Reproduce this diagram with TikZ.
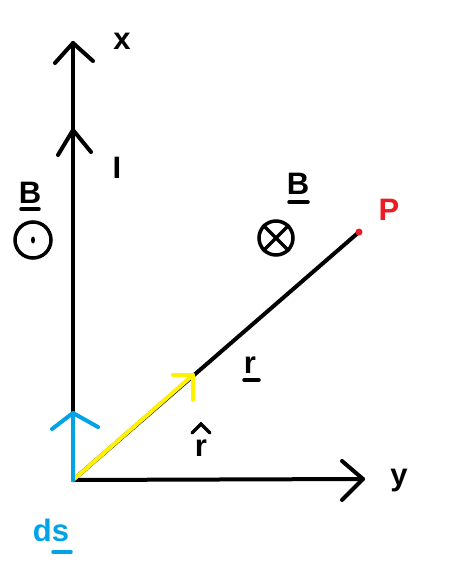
\documentclass[tikz,border=0pt]{standalone}
\usepackage{fontspec}
\setmainfont{Liberation Sans}
\definecolor{pblue}{RGB}{0,162,232}
\definecolor{pyellow}{RGB}{255,242,0}
\definecolor{pred}{RGB}{237,28,36}
\begin{document}
\begin{tikzpicture}[x=1pt,y=-1pt,
  ln/.style={line width=4pt,line cap=round,line join=round},
  lbl/.style={inner sep=0pt,font=\fontsize{31}{36}\selectfont\bfseries},
  ul/.style={line width=3.5pt,line cap=round}]
\useasboundingbox[fill=white] (0,0) rectangle (454,577);
% key points
\coordinate (O) at (73,480);
\coordinate (X) at (73,43);
\coordinate (Y) at (363,479);
\coordinate (P) at (359,232);
\coordinate (R) at (193,375);
\coordinate (M) at (73,130);
\coordinate (D) at (73,413);
% axes
\draw[ln] (O) -- (X);
\draw[ln] (O) -- (Y);
\draw[ln] (55,63) -- (X) -- (93,61);
\draw[ln] (58,155) -- (M) -- (91,152);
\draw[ln] (342,461) -- (Y) -- (342,500);
% line to P
\draw[ln] (O) -- (P);
\fill[pred] (P) circle (3.5pt);
% yellow r-hat arrow
\draw[ln,pyellow] (O) -- (R);
\draw[ln,pyellow] (173,375) -- (R) -- (193,400);
% blue ds arrow
\draw[ln,pblue] (O) -- (D);
\draw[ln,pblue] (52,429) -- (D) -- (98,427);
% labels
\node[lbl] (lx) at (122,41) {x};
\node[lbl] (lI) at (117,168) {I};
\node[lbl] (lB1) at (30,193) {B};
\draw[ul] (21,209) -- (39,209);
\node[draw,circle,line width=3.5pt,minimum size=36pt,inner sep=0pt] (odot) at (33,240) {};
\fill (odot.center) ellipse (2pt and 3.5pt);
\node[lbl] (lB2) at (298,184) {B};
\draw[ul] (289,202) -- (308,202);
\node[draw,circle,line width=3.5pt,minimum size=34pt,inner sep=0pt] (otimes) at (276,238) {};
\draw[line width=3.5pt] (otimes.north west) -- (otimes.south east)
  (otimes.north east) -- (otimes.south west);
\node[lbl,text=pred] (lP) at (389,210) {P};
\node[lbl] (lr) at (250,365) {r};
\draw[ul] (244,380) -- (259,380);
\node[lbl] (lrh) at (201,448) {r};
\draw[line width=3.5pt,line cap=round,line join=miter] (192,433) -- (201,424) -- (210,433);
\node[lbl] (ly) at (399,481) {y};
\node[lbl,text=pblue] (lds) at (51,530) {ds};
\draw[ul,pblue] (53,552) -- (71,552);
\end{tikzpicture}
\end{document}
